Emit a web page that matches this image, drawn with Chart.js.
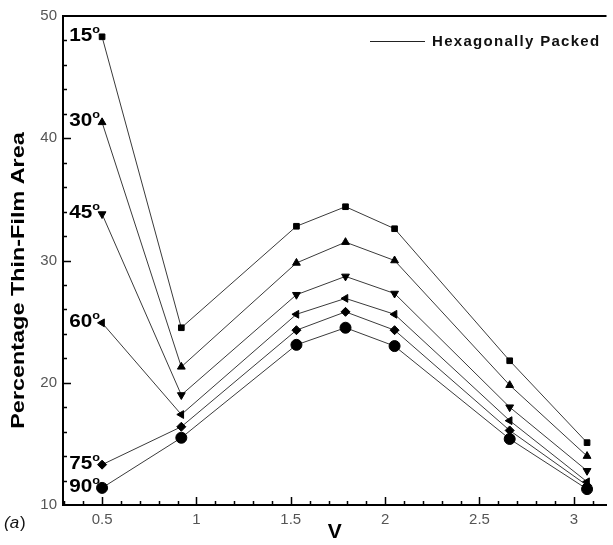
<!DOCTYPE html>
<html>
<head>
<meta charset="utf-8">
<script src="https://cdn.jsdelivr.net/npm/chart.js@4"></script>
<style>
  html, body { margin: 0; padding: 0; background: #fff; overflow: hidden; }
  #wrap { width: 613px; height: 545px; position: relative; }
</style>
</head>
<body>
<div id="wrap"><canvas id="c" width="613" height="545"></canvas></div>
<script>
// V values shared by every curve
const vValues = [0.5, 0.92, 1.53, 1.79, 2.05, 2.66, 3.07];

// percentage thin-film area per contact angle
const angles = ['15', '30', '45', '60', '75', '90'];
const area15 = [48.3, 24.5, 32.8, 34.4, 32.6, 21.8, 15.1];
const area30 = [41.3, 21.3, 29.8, 31.5, 30.0, 19.8, 14.0];
const area45 = [33.8, 19.0, 27.2, 28.7, 27.3, 18.0, 12.8];
const area60 = [24.9, 17.4, 25.6, 26.9, 25.6, 16.9, 11.9];
const area75 = [13.3, 16.4, 24.3, 25.8, 24.3, 16.1, 11.6];
const area90 = [11.4, 15.5, 23.1, 24.5, 23.0, 15.4, 11.3];

const xTicks = [0.5, 1, 1.5, 2, 2.5, 3];
const yTicks = [10, 20, 30, 40, 50];
const legendLabel = 'Hexagonally Packed';
const yTitle = 'Percentage Thin-Film Area';

const series = [area15, area30, area45, area60, area75, area90];
const markers = [
  { style: 'rect', r: 4, rot: 0 },
  { style: 'triangle', r: 4.5, rot: 0 },
  { style: 'triangle', r: 4.5, rot: 180 },
  { style: 'triangle', r: 4.5, rot: -90 },
  { style: 'rectRot', r: 4.5, rot: 0 },
  { style: 'circle', r: 5.5, rot: 0 }
];

const FONT = 'Arial, "Liberation Sans", sans-serif';

const datasets = series.map((vals, i) => ({
  label: angles[i],
  data: vals.map((y, j) => ({ x: vValues[j], y })),
  borderColor: '#3a3a3a',
  borderWidth: 1,
  pointStyle: markers[i].style,
  pointRadius: markers[i].r,
  pointRotation: markers[i].rot,
  pointBackgroundColor: '#000',
  pointBorderColor: '#000',
  pointBorderWidth: 1,
  tension: 0
}));

// inward ticks, top frame, angle labels, y title and the legend line
const decor = {
  id: 'decor',
  afterDatasetsDraw(chart) {
    const ctx = chart.ctx;
    const xs = chart.scales.x, ys = chart.scales.y;
    const a = chart.chartArea;
    ctx.save();
    ctx.strokeStyle = '#000';
    ctx.lineWidth = 2;
    ctx.beginPath();
    ctx.moveTo(a.left - 1, a.top);
    ctx.lineTo(a.right, a.top);
    ctx.stroke();

    ctx.lineWidth = 1.5;
    ctx.beginPath();
    for (let v = 0.3; v <= 3.17; v += 0.1) {
      const px = Math.round(xs.getPixelForValue(v)) + 0.5;
      const major = Math.abs(v * 2 - Math.round(v * 2)) < 1e-6;
      ctx.moveTo(px, a.bottom);
      ctx.lineTo(px, a.bottom - (major ? 8 : 4));
    }
    for (let v = 12; v < 50; v += 2) {
      const py = Math.round(ys.getPixelForValue(v)) + 0.5;
      const major = v % 10 === 0;
      ctx.moveTo(a.left, py);
      ctx.lineTo(a.left + (major ? 8 : 4), py);
    }
    ctx.stroke();

    // angle labels beside each curve's first point
    chart.data.datasets.forEach((ds, i) => {
      const pt = chart.getDatasetMeta(i).data[0];
      ctx.save();
      ctx.translate(pt.x - 2, pt.y - 1);
      ctx.scale(1.15, 1);
      ctx.fillStyle = '#000';
      ctx.textBaseline = 'middle';
      ctx.font = 'bold 11px ' + FONT;
      const oW = ctx.measureText('o').width;
      ctx.textAlign = 'left';
      ctx.fillText('o', -oW, -6);
      ctx.font = 'bold 18px ' + FONT;
      ctx.textAlign = 'right';
      ctx.fillText(ds.label, -oW, 0);
      ctx.restore();
    });

    // y axis title, drawn stretched along its length like the original
    ctx.save();
    ctx.translate(19.5, (a.top + a.bottom) / 2 + 20);
    ctx.rotate(-Math.PI / 2);
    ctx.scale(1.3, 1);
    ctx.fillStyle = '#000';
    ctx.font = 'bold 18px ' + FONT;
    ctx.textAlign = 'center';
    ctx.textBaseline = 'middle';
    ctx.fillText(yTitle, 0, 0);
    ctx.restore();

    // legend
    ctx.strokeStyle = '#222';
    ctx.lineWidth = 1;
    ctx.beginPath();
    ctx.moveTo(370, 41.5);
    ctx.lineTo(425, 41.5);
    ctx.stroke();
    ctx.fillStyle = '#111';
    ctx.font = 'bold 15px ' + FONT;
    ctx.letterSpacing = '1.3px';
    ctx.textAlign = 'left';
    ctx.textBaseline = 'middle';
    ctx.fillText(legendLabel, 432, 42);
    ctx.letterSpacing = '0px';

    // panel tag
    ctx.font = 'italic 17px ' + FONT;
    ctx.textBaseline = 'alphabetic';
    ctx.fillText('(', 4, 528);
    const w = ctx.measureText('(').width;
    ctx.fillText('a', 4 + w, 528);
    ctx.font = '17px ' + FONT;
    ctx.fillText(')', 4 + w + ctx.measureText('a').width + 1, 528);
    ctx.restore();
  }
};

new Chart(document.getElementById('c'), {
  type: 'line',
  data: { datasets },
  options: {
    responsive: false,
    animation: false,
    layout: { padding: { top: 16, left: 0, right: 0, bottom: 0 } },
    plugins: { legend: { display: false }, tooltip: { enabled: false } },
    scales: {
      x: {
        type: 'linear',
        min: 0.293,
        max: 3.173,
        grid: { display: false, drawTicks: false },
        border: { display: true, color: '#000', width: 2 },
        afterBuildTicks: s => { s.ticks = xTicks.map(v => ({ value: v })); },
        afterFit: s => { s.height = 40; },
        ticks: {
          color: '#555',
          padding: 6,
          font: { family: FONT, size: 15 },
          callback: v => String(v)
        },
        title: {
          display: true,
          text: 'V',
          color: '#000',
          padding: 0,
          font: { family: FONT, size: 21, weight: 'bold' }
        }
      },
      y: {
        min: 10,
        max: 50,
        grid: { display: false, drawTicks: false },
        border: { display: true, color: '#000', width: 2 },
        afterBuildTicks: s => { s.ticks = yTicks.map(v => ({ value: v })); },
        afterFit: s => { s.width = 63; },
        ticks: {
          color: '#555',
          padding: 6,
          font: { family: FONT, size: 15 }
        }
      }
    }
  },
  plugins: [decor]
});
</script>
</body>
</html>
